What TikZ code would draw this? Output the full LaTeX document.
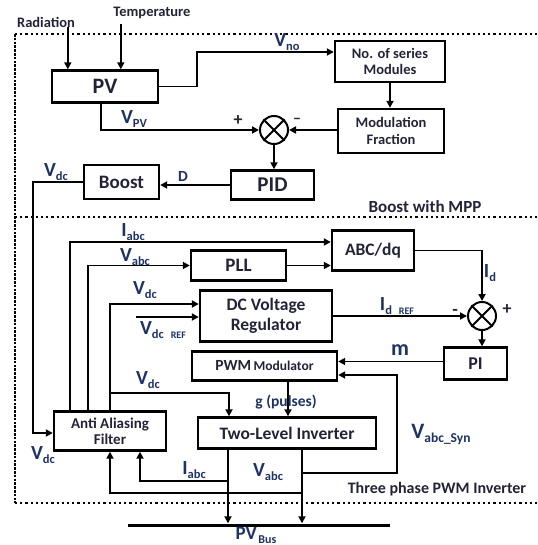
\documentclass[tikz,border=0pt]{standalone}
\usepackage{fontspec}
\setmainfont{Carlito}
\usetikzlibrary{arrows.meta,calc}
\definecolor{labc}{RGB}{30,50,100}
\definecolor{boxc}{RGB}{35,35,55}
\newcommand{\fs}[1]{\fontsize{#1}{#1}\selectfont}
\newcommand{\vs}[2]{{\fs{20}#1}\raisebox{-4pt}{\fs{12.5}#2}}
\newcommand{\vsr}[3]{{\fs{20}#1}\raisebox{-4pt}{\fs{12.5}#2\hspace{7pt}\fs{10}#3}}
\begin{document}
\begin{tikzpicture}[x=1pt,y=-1pt,
  box/.style={draw, line width=2.4pt, inner sep=0pt, align=center, text=boxc},
  arr/.style={line width=1.8pt, -{Triangle[length=7pt,width=7pt]}},
  labtxt/.style={text=labc, font=\bfseries, inner sep=0pt},
  plaintxt/.style={text=boxc, font=\bfseries, inner sep=0pt},
  sumnode/.style={draw, circle, line width=2pt, minimum size=28pt, inner sep=0pt},
  dotl/.style={line width=2.2pt, dash pattern=on 2.2pt off 3pt},
  dotv/.style={line width=2.4pt, dash pattern=on 2.6pt off 1.2pt}]
\useasboundingbox (0,0) rectangle (537,545);

% frames
\draw[dotl] (15,34) -- (537,34);
\draw[dotl] (15,217) -- (537,217);
\draw[dotl] (15,503) -- (537,503);
\draw[dotv] (15,34) -- (15,503);

% upper blocks
\node[box, minimum width=106pt, minimum height=32pt, font=\bfseries\fs{22}] (PV) at (105,86.5) {PV};
\node[box, minimum width=110pt, minimum height=41pt, font=\bfseries\fontsize{14.5}{16.5}\selectfont] (series) at (390,61.5) {No. of series\\Modules};
\node[box, minimum width=106pt, minimum height=44pt, font=\bfseries\fontsize{14.5}{17}\selectfont] (modfrac) at (391,131) {Modulation\\Fraction};
\node[sumnode] (sum1) at (274,130) {};
\draw[line width=1.8pt] (sum1.45) -- (sum1.225) (sum1.135) -- (sum1.315);
\node[box, minimum width=83pt, minimum height=29pt, font=\bfseries\fs{21}] (PID) at (272.5,185) {PID};
\node[box, minimum width=75pt, minimum height=34pt, font=\bfseries\fs{19}] (Boost) at (121.5,182) {Boost};

% lower blocks
\node[box, minimum width=82pt, minimum height=40pt, font=\bfseries\fs{17.5}] (abc) at (373,250.5) {ABC/dq};
\node[box, minimum width=95pt, minimum height=30pt, font=\bfseries\fs{19}] (PLL) at (238.5,265.5) {PLL};
\node[box, minimum width=132pt, minimum height=51pt, font=\bfseries\fontsize{17.5}{20}\selectfont] (dcreg) at (266,316) {DC Voltage\\Regulator};
\node[sumnode] (sum2) at (482,316) {};
\draw[line width=1.8pt] (sum2.45) -- (sum2.225) (sum2.135) -- (sum2.315);
\node[box, minimum width=63pt, minimum height=32pt, font=\bfseries\fs{18}] (PI) at (475.5,363.5) {PI};
\node[box, minimum width=145pt, minimum height=29pt, font=\bfseries] (PWM) at (264.5,366) {{\fs{15.5}PWM} {\fs{13.5}Modulator}};
\node[box, minimum width=178pt, minimum height=31pt, font=\bfseries\fs{17.5}] (inv) at (287,433) {Two-Level Inverter};
\node[box, minimum width=112pt, minimum height=39pt, font=\bfseries\fontsize{15}{16}\selectfont] (AAF) at (110,431) {Anti Aliasing\\Filter};
\node[fill=black, minimum width=262pt, minimum height=3pt, inner sep=0pt] (bus) at (259,525) {};

% texts
\node[plaintxt, font=\bfseries\fs{14.5}] (rad) at (46,22) {Radiation};
\node[plaintxt, font=\bfseries\fs{14.5}] (temp) at (152,13) {Temperature};
\node[plaintxt, font=\bfseries\fs{17}] (boostmpp) at (425,207) {Boost with MPP};
\node[plaintxt, font=\bfseries\fs{16}] (threeph) at (437,489) {Three phase PWM Inverter};

% upper connectors
\coordinate (radin) at ([xshift=17pt]PV.north west);
\coordinate (tempin) at ([xshift=70pt]PV.north west);
\draw[arr] (radin |- rad.south) -- (radin);
\draw[arr] ([yshift=-5pt]tempin |- temp.south) -- (tempin);
\coordinate (vnoT) at ([yshift=9.5pt]series.west);
\draw[arr] (PV.east) -- ++(38,0) |- (vnoT);
\draw[arr] (series.south) -- (series.south |- modfrac.north);
\draw[arr] (modfrac.west |- sum1.east) -- (sum1.east);
\coordinate (pvout) at ([xshift=-4pt]PV.south);
\draw[arr] (pvout) |- (sum1.west);
\draw[arr] (sum1.south) -- (sum1.south |- PID.north);
\draw[arr] (PID.west) -- (PID.west -| Boost.east);
\coordinate (vdcL) at (33,433);
\draw[arr] (Boost.west) -| (vdcL) -- (vdcL -| AAF.west);

% lower connectors
\coordinate (t1) at ([xshift=17pt]AAF.north west);
\coordinate (t2) at ([xshift=35pt]AAF.north west);
\draw[arr] (t1) |- ([yshift=8.5pt]abc.west);
\draw[arr] (t2) |- (PLL.west);
\draw[arr] (PLL.east) -- (PLL.east -| abc.west);
\draw[arr] (abc.east) -| (sum2.north);
\draw[arr] (AAF.north) |- ([yshift=12pt]dcreg.west);
\coordinate (vref) at (136,317);
\draw[arr] (vref) -- (vref -| dcreg.west);
\draw[arr] (dcreg.east) -- (sum2.west);
\draw[arr] (sum2.south) -- (sum2.south |- PI.north);
\draw[arr] ([yshift=2pt]PI.west) -- ([yshift=2pt]PI.west -| PWM.east);
\coordinate (gout) at ([xshift=23.5pt]PWM.south);
\draw[arr] (gout) -- (gout |- inv.north);
\coordinate (vdcinv) at ([xshift=-58pt]inv.north);
\draw[arr] ([yshift=17pt]AAF.north) -| (vdcinv);
\coordinate (o1) at ([xshift=-59pt]inv.south);
\coordinate (o2) at ([xshift=15pt]inv.south);
\draw[arr] (o1) -- (o1 |- bus.north);
\draw[arr] (o2) -- (o2 |- bus.north);
\draw[arr] ([yshift=-31pt]o1) -| ([xshift=30pt]AAF.south);
\draw[arr] ([yshift=-43pt]o2) -| (AAF.south);
\draw[arr] ([yshift=-23pt]o2) -- ++(95,0) |- ([yshift=-9pt]PWM.east);

% labels
\node[labtxt] (lvno) at (287,42) {\vs{V}{no}};
\node[labtxt] (lvpv) at (134,119) {\vs{V}{PV}};
\node[plaintxt, font=\bfseries\fs{18}] (plus1) at (238,121) {+};
\node[plaintxt, font=\bfseries\fs{16}] (minus1) at (297,121) {--};
\node[labtxt, font=\bfseries\fs{15.5}] (lD) at (183,176) {D};
\node[labtxt] (lvdc1) at (56,172) {\vs{V}{dc}};
\node[labtxt] (lvdc2) at (43,455) {\vs{V}{dc}};
\node[labtxt] (liabc1) at (133,232) {\vs{I}{abc}};
\node[labtxt] (lvabc1) at (135,257) {\vs{V}{abc}};
\node[labtxt] (lvdc3) at (145,290) {\vs{V}{dc}};
\node[labtxt] (lvdcref) at (163,330) {\vsr{V}{dc}{REF}};
\node[labtxt] (lid) at (490,273) {\vs{I}{d}};
\node[labtxt] (lidref) at (397,306) {\vsr{I}{d}{REF}};
\node[plaintxt, font=\bfseries\fs{18}] (minus2) at (455,312) {-};
\node[plaintxt, font=\bfseries\fs{18}] (plus2) at (507,310) {+};
\node[labtxt, font=\bfseries\fs{22}] (lm) at (400,350) {m};
\node[labtxt] (lvdc4) at (148,380) {\vs{V}{dc}};
\node[labtxt, font=\bfseries\fs{15.5}] (lg) at (286,402) {g (pulses)};
\node[labtxt] (liabc2) at (194,470) {\vs{I}{abc}};
\node[labtxt] (lvabc2) at (268,472) {\vs{V}{abc}};
\node[labtxt] (lsyn) at (441,434) {{\fs{22}V}\raisebox{-4pt}{\fs{13.5}abc\_Syn}};
\node[labtxt] (lbus) at (256,535) {{\fs{19}PV}\,\raisebox{-4pt}{\fs{12}Bus}};
\end{tikzpicture}
\end{document}
